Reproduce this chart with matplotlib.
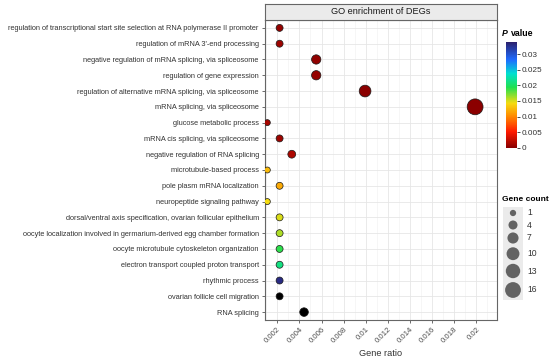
import matplotlib.pyplot as plt
import numpy as np
from matplotlib.colors import LinearSegmentedColormap, Normalize
from matplotlib.patches import Rectangle

plt.rcParams['font.family'] = ['Liberation Sans', 'DejaVu Sans']

terms = [
    "regulation of transcriptional start site selection at RNA polymerase II promoter",
    "regulation of mRNA 3'-end processing",
    "negative regulation of mRNA splicing, via spliceosome",
    "regulation of gene expression",
    "regulation of alternative mRNA splicing, via spliceosome",
    "mRNA splicing, via spliceosome",
    "glucose metabolic process",
    "mRNA cis splicing, via spliceosome",
    "negative regulation of RNA splicing",
    "microtubule-based process",
    "pole plasm mRNA localization",
    "neuropeptide signaling pathway",
    "dorsal/ventral axis specification, ovarian follicular epithelium",
    "oocyte localization involved in germarium-derived egg chamber formation",
    "oocyte microtubule cytoskeleton organization",
    "electron transport coupled proton transport",
    "rhythmic process",
    "ovarian follicle cell migration",
    "RNA splicing",
]
gene_count = [2, 2, 5, 5, 9, 18, 1, 2, 3, 1, 2, 1, 2, 2, 2, 2, 2, 2, 4]
gene_ratio = [0.00221, 0.00221, 0.00552, 0.00552, 0.00994, 0.01989, 0.00110, 0.00221, 0.00331,
              0.00110, 0.00221, 0.00110, 0.00221, 0.00221, 0.00221, 0.00221, 0.00221, 0.00221, 0.00442]
p_value = [0.0005, 0.0008, 0.0003, 0.0004, 0.0001, 0.00001, 0.0012, 0.0009, 0.0015,
           0.0125, 0.0118, 0.0143, 0.0149, 0.0160, 0.0190, 0.0210, 0.0330, 0.040, 0.045]

x_ticks = [0.002, 0.004, 0.006, 0.008, 0.01, 0.012, 0.014, 0.016, 0.018, 0.02]
x_tick_labels = ["0.002", "0.004", "0.006", "0.008", "0.01", "0.012", "0.014", "0.016", "0.018", "0.02"]
cbar_ticks = [0, 0.005, 0.01, 0.015, 0.02, 0.025, 0.03]
cbar_labels = ["0", "0.005", "0.01", "0.015", "0.02", "0.025", "0.03"]
legend_counts = [1, 4, 7, 10, 13, 16]

p_max = 0.034
cmap = LinearSegmentedColormap.from_list("pv", [
    (0.0, "#8B0000"), (0.15, "#FF1A00"), (0.30, "#FF8C00"), (0.42, "#F5DC10"),
    (0.57, "#20E050"), (0.70, "#00E0D0"), (0.83, "#1E6CFF"), (1.0, "#2B1F6B")])
cmap.set_over("black")
norm = Normalize(vmin=0, vmax=p_max)


def size_of(c):
    # area grows linearly with gene count
    return 12 + 6.6 * np.asarray(c, dtype=float)


W, H = 550, 358
fig = plt.figure(figsize=(W / 100, H / 100), dpi=100)
ax = fig.add_axes([265 / W, 1 - 320 / H, (497 - 265) / W, (320 - 20) / H])

y = np.arange(len(terms))
ax.scatter(gene_ratio, y, s=size_of(gene_count), c=p_value, cmap=cmap, norm=norm,
           edgecolors="#1a1a1a", linewidths=0.5, zorder=3)

ax.set_xlim(0.00089, 0.02187)
ax.set_ylim(len(terms) - 0.5, -0.5)
ax.set_yticks(y)
ax.set_yticklabels(terms, fontsize=5.35, color="#333333")
ax.set_xticks(x_ticks)
ax.set_xticklabels(x_tick_labels, fontsize=5.6, color="#4d4d4d", rotation=45,
                   ha="right", va="top", rotation_mode="anchor")
ax.set_xticks(np.arange(0.001, 0.022, 0.002), minor=True)
ax.tick_params(axis="both", which="major", length=2.5, width=0.5, color="#333333", pad=2)
ax.tick_params(axis="x", which="minor", length=0)
ax.grid(True, which="major", color="#e6e6e6", linewidth=0.6, zorder=0)
ax.grid(True, which="minor", axis="x", color="#f0f0f0", linewidth=0.4, zorder=0)
ax.set_axisbelow(True)
for sp in ax.spines.values():
    sp.set_color("#666666")
    sp.set_linewidth(0.8)
ax.set_xlabel("Gene ratio", fontsize=6.6, color="#333333", labelpad=3)

# facet strip
strip = fig.add_axes([265 / W, 1 - 20 / H, (497 - 265) / W, 16 / H])
strip.set_xticks([])
strip.set_yticks([])
strip.set_facecolor("#ebebeb")
for sp in strip.spines.values():
    sp.set_color("#666666")
    sp.set_linewidth(0.8)
strip.text(0.5, 0.5, "GO enrichment of DEGs", ha="center", va="center",
           fontsize=6.6, color="#1a1a1a", transform=strip.transAxes)

# colour bar
cax = fig.add_axes([506 / W, 1 - 147.7 / H, 11 / W, (147.7 - 41.7) / H])
sm = plt.cm.ScalarMappable(norm=norm, cmap=cmap)
cb = fig.colorbar(sm, cax=cax, ticks=cbar_ticks, extend="neither")
cb.ax.set_yticklabels(cbar_labels, fontsize=5.9, color="#333333")
cb.ax.tick_params(length=2, width=0.5, pad=1)
cb.outline.set_visible(False)
fig.text(502 / W, 1 - 33 / H, "P", fontsize=6.3, fontweight="bold", style="italic",
         ha="left", va="center")
fig.text(511 / W, 1 - 33 / H, "value", fontsize=6.3, fontweight="bold",
         ha="left", va="center")

# gene count legend
fig.text(502 / W, 1 - 199 / H, "Gene count", fontsize=6.0, fontweight="bold",
         ha="left", va="center")
lax = fig.add_axes([503 / W, 1 - 300 / H, 20 / W, 93 / H])
lax.set_xlim(0, 1)
lax.set_ylim(300, 207)
lax.axis("off")
lax.add_patch(Rectangle((0, 207), 1, 93, facecolor="#ebebeb", edgecolor="none"))
leg_y = [213, 225, 238, 253.7, 271, 290]
lax.scatter([0.5] * len(legend_counts), leg_y, s=size_of(legend_counts) * 1.1,
            color="#636363", edgecolors="none", clip_on=False)
for cnt, yy in zip(legend_counts, leg_y):
    fig.text(527 / W, 1 - yy / H, str(cnt), fontsize=6.2, color="#333333",
             ha="left", va="center")

fig.savefig("out.png", dpi=100)
